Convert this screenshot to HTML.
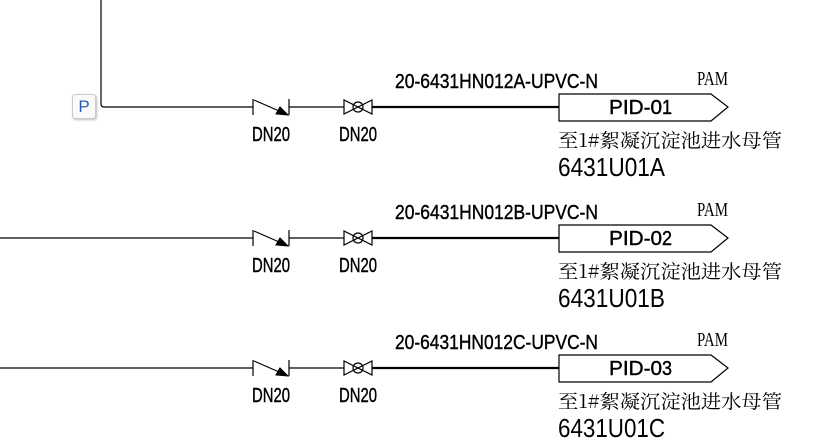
<!DOCTYPE html>
<html><head><meta charset="utf-8"><style>
html,body{margin:0;padding:0;background:#fff;width:832px;height:445px;overflow:hidden}
.p{position:absolute;left:72px;top:94px;width:22px;height:23px;border:1px solid #ccc;border-radius:3px;background:#fafafa;box-shadow:1px 1px 2px #bbb;font:17px "Liberation Sans",sans-serif;color:#2a5db0;text-align:center;line-height:23px}
</style></head><body>
<svg width="832" height="445" style="position:absolute;left:0;top:0" font-family="Liberation Sans, sans-serif">
<defs>
<g id="row" stroke="#000" fill="none">
  <line x1="253" y1="-8" x2="253" y2="8" stroke-width="1.2"/>
  <line x1="289" y1="-8" x2="289" y2="8" stroke-width="1.2"/>
  <line x1="254" y1="-7" x2="286" y2="7" stroke-width="1.2"/>
  <polygon points="288,8 276,7 280,0" fill="#000"/>
  <line x1="289" y1="0" x2="344" y2="0" stroke-width="1.2"/>
  <polygon points="344,-7 344,7 372,-7 372,7" stroke-width="1.2"/>
  <circle cx="358" cy="0" r="5" stroke-width="1.2"/>
  <line x1="372" y1="0" x2="559" y2="0" stroke-width="2.2"/>
  <polygon points="559,-13 711,-13 728,0 711,14 559,14" stroke-width="1.2"/>
  <g fill="#000" stroke="#000" stroke-width="0.4">
    <text x="252" y="34" font-size="20" textLength="38" lengthAdjust="spacingAndGlyphs">DN20</text>
    <text x="339" y="34" font-size="20" textLength="38" lengthAdjust="spacingAndGlyphs">DN20</text>
    <text x="609" y="7" font-size="20" textLength="53" lengthAdjust="spacingAndGlyphs">PID-0</text>
  </g>
  <g fill="#000" stroke="none">
    <text x="697" y="-22" font-size="20" font-family="Liberation Serif, serif" textLength="31" lengthAdjust="spacingAndGlyphs">PAM</text>
    <text x="558" y="40" font-size="19" font-family="Noto Serif CJK SC, serif" textLength="224" lengthAdjust="spacingAndGlyphs">至1#絮凝沉淀池进水母管</text>
  </g>
</g>
</defs>
<line x1="101" y1="0" x2="101" y2="104" stroke="#000" stroke-width="1.2"/>
<path d="M101 104 Q101 107 104 107 L253 107" stroke="#000" stroke-width="1.2" fill="none"/>
<use href="#row" transform="translate(0,107)"/>
<line x1="0" y1="238" x2="253" y2="238" stroke="#000" stroke-width="1.2"/>
<use href="#row" transform="translate(0,238)"/>
<line x1="0" y1="368" x2="253" y2="368" stroke="#000" stroke-width="1.2"/>
<use href="#row" transform="translate(0,368)"/>
<g fill="#000" stroke="#000" stroke-width="0.4" font-size="20">
<text x="395" y="88" textLength="203" lengthAdjust="spacingAndGlyphs">20-6431HN012A-UPVC-N</text>
<text x="395" y="219" textLength="203" lengthAdjust="spacingAndGlyphs">20-6431HN012B-UPVC-N</text>
<text x="395" y="349" textLength="203" lengthAdjust="spacingAndGlyphs">20-6431HN012C-UPVC-N</text>
<text x="662" y="114" textLength="10" lengthAdjust="spacingAndGlyphs">1</text>
<text x="662" y="245" textLength="10" lengthAdjust="spacingAndGlyphs">2</text>
<text x="662" y="375" textLength="10" lengthAdjust="spacingAndGlyphs">3</text>
</g>
<g fill="#000" font-size="26">
<text x="558" y="176" textLength="107" lengthAdjust="spacingAndGlyphs">6431U01A</text>
<text x="558" y="307" textLength="107" lengthAdjust="spacingAndGlyphs">6431U01B</text>
<text x="558" y="437" textLength="107" lengthAdjust="spacingAndGlyphs">6431U01C</text>
</g>
</svg>
<div class="p">P</div>
</body></html>
